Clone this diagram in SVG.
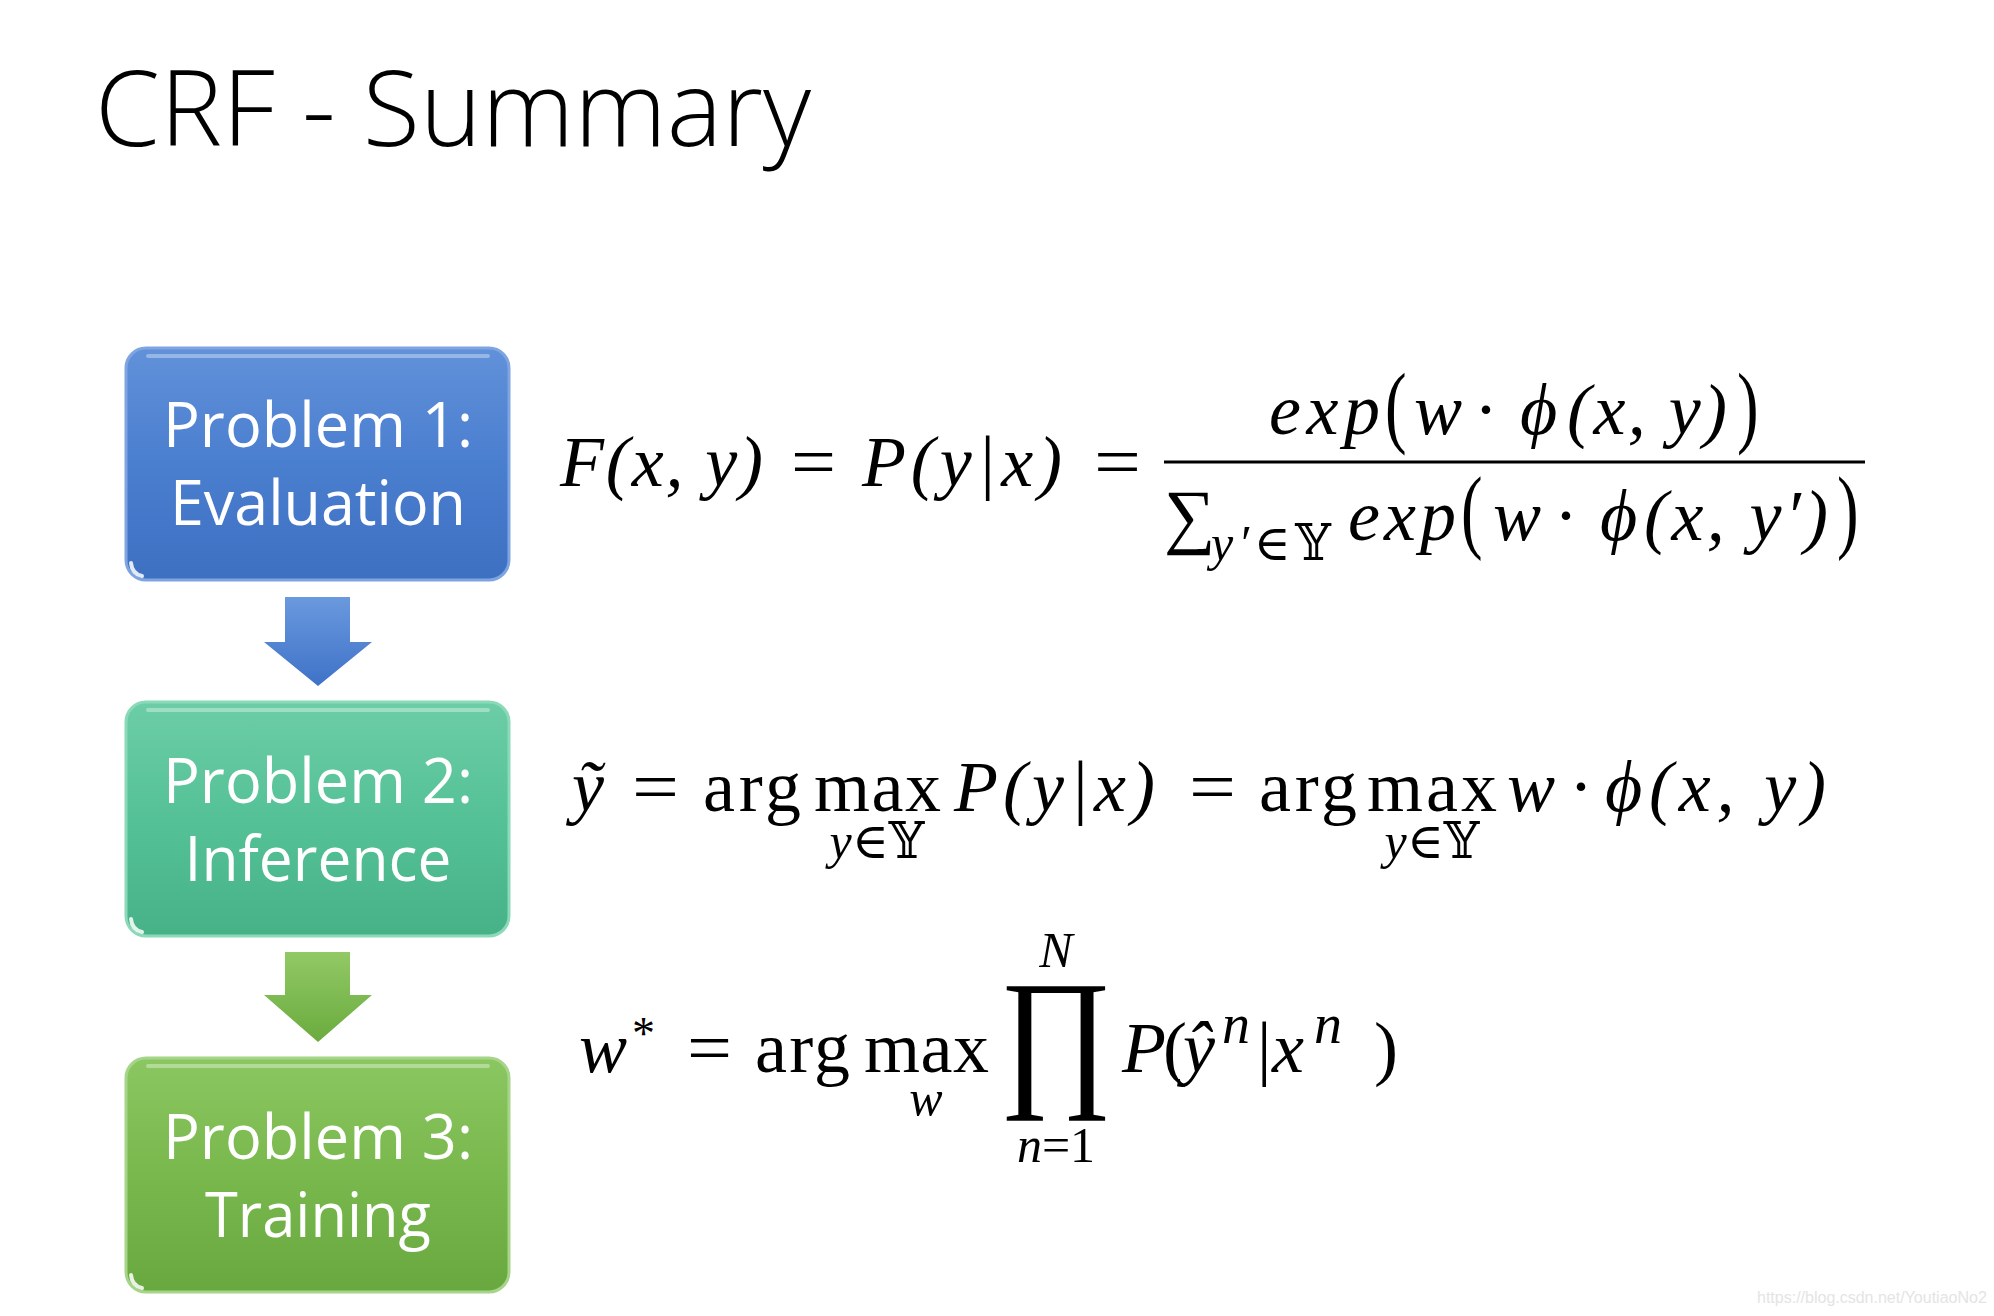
<svg xmlns="http://www.w3.org/2000/svg" width="1994" height="1316" viewBox="0 0 1994 1316">
<defs>
<linearGradient id="gBlue" x1="0" y1="0" x2="0" y2="1"><stop offset="0" stop-color="#6191d9"/><stop offset="0.5" stop-color="#4a7ecf"/><stop offset="1" stop-color="#3e70c2"/></linearGradient>
<linearGradient id="gTeal" x1="0" y1="0" x2="0" y2="1"><stop offset="0" stop-color="#6ccda6"/><stop offset="0.5" stop-color="#55c196"/><stop offset="1" stop-color="#47b287"/></linearGradient>
<linearGradient id="gGreen" x1="0" y1="0" x2="0" y2="1"><stop offset="0" stop-color="#8bc761"/><stop offset="0.5" stop-color="#79b84d"/><stop offset="1" stop-color="#69a83f"/></linearGradient>
<linearGradient id="aBlue" x1="0" y1="0" x2="0" y2="1"><stop offset="0" stop-color="#6a99de"/><stop offset="1" stop-color="#3f72c8"/></linearGradient>
<linearGradient id="aGreen" x1="0" y1="0" x2="0" y2="1"><stop offset="0" stop-color="#92c966"/><stop offset="1" stop-color="#6aab3e"/></linearGradient>
</defs>
<style>
.title{font-family:'Open Sans','Noto Sans',sans-serif;font-weight:300;font-size:106px;fill:#000}
.lbl{font-family:'Open Sans','Noto Sans',sans-serif;font-size:63px;fill:#fff;text-anchor:middle}
.box{stroke-width:3}
.hl{fill:none;stroke:#fff;stroke-opacity:0.35;stroke-width:4;stroke-linecap:round}
.corner{fill:none;stroke:#fff;stroke-opacity:0.85;stroke-width:4;stroke-linecap:round}
.t{font-family:'Liberation Serif','DejaVu Serif',serif;font-size:72px;fill:#000}
.i{font-style:italic}
.u{font-style:normal}
.s{font-size:50px}
.sup{font-size:56px}
.c{text-anchor:middle}
.wm{font-family:'Liberation Sans',Arial,sans-serif;font-size:16px;fill:#e4e4e4}
</style>
<rect width="1994" height="1316" fill="#fff"/>
<text class="title" x="95" y="146" textLength="716" lengthAdjust="spacingAndGlyphs">CRF - Summary</text>

<g id="connectors">
<path d="M285 597 H350 V642 H372 L318 686 L264 642 H285 Z" fill="url(#aBlue)"/>
<path d="M285 952 H350 V995 H372 L318 1042 L264 995 H285 Z" fill="url(#aGreen)"/>
</g>

<g id="node-evaluation">
<rect class="box" x="126" y="348" width="383" height="232" rx="20" fill="url(#gBlue)" stroke="#7ea5e2"/>
<path class="hl" d="M148 356 H488"/>
<path class="corner" d="M131 563 Q132 574 142 576"/>
<text class="lbl" x="318" y="447" textLength="310" lengthAdjust="spacingAndGlyphs">Problem 1:</text>
<text class="lbl" x="318" y="525" textLength="296" lengthAdjust="spacingAndGlyphs">Evaluation</text>
</g>
<g id="node-inference">
<rect class="box" x="126" y="702" width="383" height="234" rx="20" fill="url(#gTeal)" stroke="#8ad9b9"/>
<path class="hl" d="M148 710 H488"/>
<path class="corner" d="M131 919 Q132 930 142 932"/>
<text class="lbl" x="318" y="803" textLength="310" lengthAdjust="spacingAndGlyphs">Problem 2:</text>
<text class="lbl" x="318" y="881" textLength="267" lengthAdjust="spacingAndGlyphs">Inference</text>
</g>
<g id="node-training">
<rect class="box" x="126" y="1058" width="383" height="234" rx="20" fill="url(#gGreen)" stroke="#a6d58a"/>
<path class="hl" d="M148 1066 H488"/>
<path class="corner" d="M131 1275 Q132 1286 142 1288"/>
<text class="lbl" x="318" y="1159" textLength="310" lengthAdjust="spacingAndGlyphs">Problem 3:</text>
<text class="lbl" x="318" y="1237" textLength="226" lengthAdjust="spacingAndGlyphs">Training</text>
</g>

<g id="formula-evaluation">
<text class="t i" x="560" y="486" textLength="203" lengthAdjust="spacing">F(x, y)</text>
<text class="t" x="791" y="486" textLength="45" lengthAdjust="spacingAndGlyphs">=</text>
<text class="t i" x="862" y="486" textLength="200" lengthAdjust="spacing">P(y|x)</text>
<text class="t" x="1094" y="486" textLength="47" lengthAdjust="spacingAndGlyphs">=</text>
<line x1="1164" y1="462" x2="1865" y2="462" stroke="#000" stroke-width="3"/>
<text class="t i" x="1269" y="434" textLength="111" lengthAdjust="spacing">exp</text>
<text class="t" transform="translate(1385,436) scale(0.9,1.25)">(</text>
<text class="t i" x="1414" y="434">w</text>
<text class="t" x="1474" y="434">·</text>
<text class="t i" x="1520" y="434">ϕ</text>
<text class="t i" x="1567" y="434" textLength="160" lengthAdjust="spacing">(x, y)</text>
<text class="t" transform="translate(1737,436) scale(0.9,1.25)">)</text>
<text class="t" x="1164" y="540">∑</text>
<text class="t i s" x="1211" y="560" textLength="120" lengthAdjust="spacing">y′<tspan class="u">∈𝕐</tspan></text>
<text class="t i" x="1348" y="540" textLength="108" lengthAdjust="spacing">exp</text>
<text class="t" transform="translate(1461,541) scale(0.9,1.3)">(</text>
<text class="t i" x="1493" y="540">w</text>
<text class="t" x="1554" y="540">·</text>
<text class="t i" x="1600" y="540">ϕ</text>
<text class="t i" x="1644" y="540" textLength="184" lengthAdjust="spacing">(x, y′)</text>
<text class="t" transform="translate(1837,541) scale(0.9,1.3)">)</text>
</g>

<g id="formula-inference">
<text class="t i" x="572" y="811">ỹ</text>
<text class="t" x="632" y="811" textLength="47" lengthAdjust="spacingAndGlyphs">=</text>
<text class="t" x="703" y="811" textLength="98" lengthAdjust="spacing">arg</text>
<text class="t" x="814" y="811" textLength="127" lengthAdjust="spacing">max</text>
<text class="t i s c" x="877" y="858">y<tspan class="u">∈𝕐</tspan></text>
<text class="t i" x="954" y="811" textLength="201" lengthAdjust="spacing">P(y|x)</text>
<text class="t" x="1189" y="811" textLength="47" lengthAdjust="spacingAndGlyphs">=</text>
<text class="t" x="1259" y="811" textLength="98" lengthAdjust="spacing">arg</text>
<text class="t" x="1367" y="811" textLength="130" lengthAdjust="spacing">max</text>
<text class="t i s c" x="1432" y="858">y<tspan class="u">∈𝕐</tspan></text>
<text class="t i" x="1507" y="811">w</text>
<text class="t" x="1569" y="811">·</text>
<text class="t i" x="1605" y="811">ϕ</text>
<text class="t i" x="1649" y="811" textLength="177" lengthAdjust="spacing">(x, y)</text>
</g>

<g id="formula-training">
<text class="t i" x="579" y="1072">w</text>
<text class="t" x="632" y="1049" style="font-size:46px">*</text>
<text class="t" x="687" y="1072" textLength="45" lengthAdjust="spacingAndGlyphs">=</text>
<text class="t" x="755" y="1072" textLength="95" lengthAdjust="spacing">arg</text>
<text class="t" x="864" y="1072" textLength="125" lengthAdjust="spacing">max</text>
<text class="t i s c" x="926" y="1115">w</text>
<text class="t c" style="font-size:155px" transform="translate(1056,1088) scale(0.89,1)">∏</text>
<text class="t i s c" x="1056" y="967">N</text>
<text class="t i s c" x="1056" y="1162">n<tspan class="u">=1</tspan></text>
<text class="t i" x="1122" y="1072">P</text>
<text class="t" x="1163" y="1072">(</text>
<text class="t i" x="1183" y="1072">ŷ</text>
<text class="t i sup" x="1222" y="1043">n</text>
<text class="t" x="1257" y="1072">|</text>
<text class="t i" x="1272" y="1072">x</text>
<text class="t i sup" x="1314" y="1043">n</text>
<text class="t" x="1374" y="1072">)</text>
</g>

<text class="wm" x="1757" y="1303">https://blog.csdn.net/YoutiaoNo2</text>
</svg>
